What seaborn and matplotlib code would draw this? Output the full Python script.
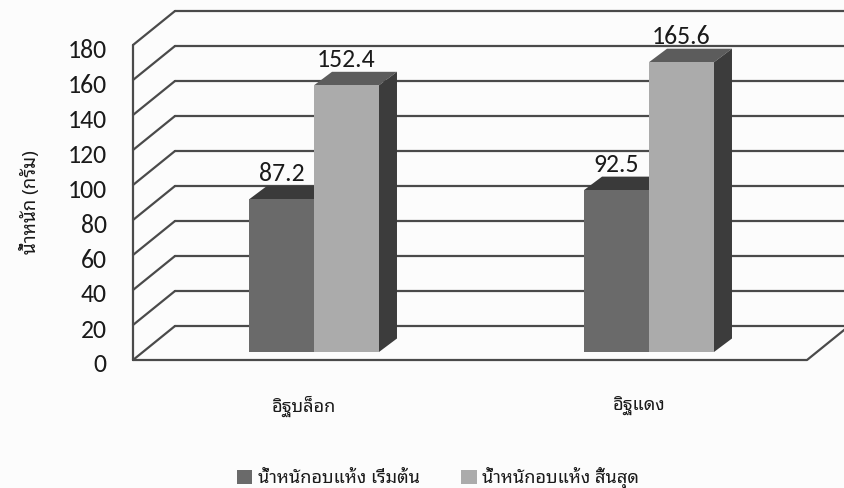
import matplotlib
matplotlib.use("Agg")
import matplotlib.pyplot as plt
from matplotlib.patches import Polygon, Patch
from matplotlib.transforms import ScaledTranslation
import pandas as pd
import seaborn as sns

# ---- data ----
categories = ["อิฐบล็อก", "อิฐแดง"]
series_names = ["น้ำหนักอบแห้ง เริ่มต้น", "น้ำหนักอบแห้ง สิ้นสุด"]
weight_start = [87.2, 92.5]
weight_end = [152.4, 165.6]
y_ticks = [0, 20, 40, 60, 80, 100, 120, 140, 160, 180]
y_label = "น้ำหนัก (กรัม)"

df = pd.DataFrame({
    "brick": categories * 2,
    "series": [series_names[0]] * len(categories) + [series_names[1]] * len(categories),
    "weight": weight_start + weight_end,
})

# ---- style ----
sns.set_theme(style="white")
THAI = ["Noto Sans Thai Looped", "DejaVu Sans"]
NUM = ["Carlito", "DejaVu Sans"]
plt.rcParams["font.family"] = THAI

FRONT = ["#6a6a6a", "#ababab"]
TOP = ["#3a3a3a", "#5c5c5c"]
SIDE = ["#303030", "#3c3c3c"]
GRID = "#4a4a4a"
BG = "#fcfcfc"
TXT = "#1a1a1a"

W, H, DPI = 844, 488, 100
fig = plt.figure(figsize=(W / DPI, H / DPI), dpi=DPI, facecolor=BG)

# pixel geometry of the front plane of the chart box
left_px, right_px, top_px, base_px = 133, 807, 45, 360
cat0_px, step_px = 304, 335
ymax = 180
px_per_val = (base_px - top_px) / ymax
xlim = ((left_px - cat0_px) / step_px, (right_px - cat0_px) / step_px)

# wall depth and bar depth (pixels)
wall_dx, wall_dy = 42, 34
bar_off_dx, bar_off_dy = 10, 8      # bars stand a little behind the front edge
bar_dx, bar_dy = 18, 13.5


def rect(l, t):
    return [l / W, 1 - (t + (base_px - top_px)) / H, (right_px - left_px) / W, (base_px - top_px) / H]


ax_wall = fig.add_axes(rect(left_px, top_px))
ax = fig.add_axes(rect(left_px + bar_off_dx, top_px - bar_off_dy))
for a in (ax_wall, ax):
    a.set_xlim(*xlim)
    a.set_ylim(0, ymax)
    a.set_facecolor("none")
    for s in a.spines.values():
        s.set_visible(False)

# ---- walls and gridlines ----
ddx = wall_dx / step_px
ddv = wall_dy / px_per_val
xL, xR = xlim
lw = 1.6
for v in y_ticks:
    ax_wall.plot([xL, xL + ddx], [v, v + ddv], color=GRID, lw=lw, clip_on=False, zorder=1)
    ax_wall.plot([xL + ddx, xR + ddx + 0.3], [v + ddv, v + ddv], color=GRID, lw=lw,
                 clip_on=False, zorder=1)
ax_wall.plot([xL, xL], [0, ymax], color=GRID, lw=lw, clip_on=False, zorder=1)
ax_wall.plot([xL, xR, xR + ddx], [0, 0, ddv], color=GRID, lw=lw, clip_on=False, zorder=1)

ax_wall.set_yticks(y_ticks)
ax_wall.set_yticklabels([str(t) for t in y_ticks], family=NUM, fontsize=18.5, color=TXT)
ax_wall.set_xticks(range(len(categories)))
ax_wall.set_xticklabels(categories, family=THAI, fontsize=13, fontweight="medium", color=TXT)
ax_wall.tick_params(axis="y", length=0, pad=19)
ax_wall.tick_params(axis="x", length=0, pad=26)
# value numbers sit a few pixels under their gridline ends
nudge = ScaledTranslation(0, -3 / DPI, fig.dpi_scale_trans)
for lbl in ax_wall.get_yticklabels():
    lbl.set_transform(lbl.get_transform() + nudge)
ax_wall.set_ylabel(y_label, family=THAI, fontsize=13.5, fontweight="medium", color=TXT)
ax_wall.yaxis.set_label_coords((40 - left_px) / (right_px - left_px), 0.5)

# ---- bars ----
sns.barplot(data=df, x="brick", y="weight", hue="series", order=categories,
            hue_order=series_names, palette=FRONT, saturation=1, width=0.388,
            gap=0, edgecolor="none", linewidth=0, errorbar=None, ax=ax)
ax.set_xlim(*xlim)
ax.set_ylim(0, ymax)
ax.set_xlabel("")
ax.set_ylabel("")
ax.set_xticks([])
ax.set_yticks([])

bdx = bar_dx / step_px
bdv = bar_dy / px_per_val
for i, container in enumerate(ax.containers):
    for bar in container:
        x0 = bar.get_x()
        x1 = x0 + bar.get_width()
        h = bar.get_height()
        bar.set_zorder(2 + 2 * i)
        top = Polygon([(x0, h), (x1, h), (x1 + bdx, h + bdv), (x0 + bdx, h + bdv)],
                      closed=True, facecolor=TOP[i], edgecolor="none", zorder=1 + 2 * i,
                      clip_on=False)
        side = Polygon([(x1, 0), (x1, h), (x1 + bdx, h + bdv), (x1 + bdx, bdv)],
                       closed=True, facecolor=SIDE[i], edgecolor="none", zorder=1 + 2 * i,
                       clip_on=False)
        ax.add_patch(top)
        ax.add_patch(side)

# value labels from the same numbers as the bars
for i, container in enumerate(ax.containers):
    vals = weight_start if i == 0 else weight_end
    for bar, val in zip(container, vals):
        ax.annotate(f"{val:.1f}", (bar.get_x() + bar.get_width() / 2, val),
                    xytext=(0, 26), textcoords="offset pixels", ha="center", va="center",
                    family=NUM, fontsize=18.5, color=TXT, zorder=10,
                    annotation_clip=False)

# ---- legend ----
if ax.legend_ is not None:
    ax.legend_.remove()
handles = [Patch(facecolor=FRONT[k], edgecolor="none") for k in range(len(series_names))]
fig.legend(handles, series_names, loc="center", bbox_to_anchor=(438 / W, 1 - 478 / H),
           ncol=2, frameon=False, prop={"family": THAI, "size": 13, "weight": "medium"},
           handlelength=0.85, handleheight=0.85, handletextpad=0.3, columnspacing=2.3,
           labelcolor=TXT)

fig.savefig("out.png", dpi=DPI, facecolor=BG)
